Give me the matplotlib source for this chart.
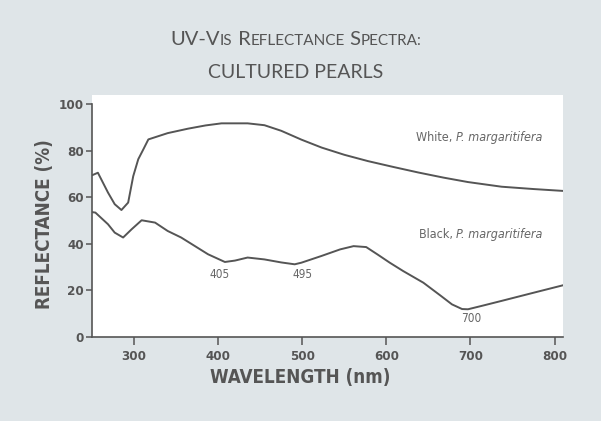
import matplotlib

matplotlib.use("Agg")
import matplotlib.pyplot as plt
from matplotlib import font_manager
from matplotlib.patches import Rectangle

# wavelength (nm) / reflectance (%)
white_nm = [250, 257, 269, 277, 285, 293, 299, 305, 311, 317, 340, 364, 385, 404, 435,
            455, 475, 499, 523, 550, 578, 608, 638, 668, 697, 737, 775, 810]
white_pct = [69.4, 70.5, 62.0, 57.0, 54.5, 57.7, 69.0, 76.3, 80.5, 84.8, 87.5, 89.4,
             90.8, 91.7, 91.7, 90.9, 88.5, 84.7, 81.3, 78.2, 75.5, 73.0, 70.6, 68.4,
             66.5, 64.5, 63.5, 62.7]

black_nm = [250, 254, 269, 277, 287, 297, 309, 325, 340, 356, 388, 408, 420, 435, 455,
            475, 491, 499, 523, 545, 561, 576, 590, 604, 620, 644, 665, 678, 690, 697,
            715, 737, 775, 810]
black_pct = [53.6, 53.4, 48.4, 44.8, 42.7, 46.2, 50.1, 49.1, 45.5, 42.7, 35.5, 32.2,
             32.8, 34.1, 33.3, 32.0, 31.2, 31.9, 34.8, 37.6, 39.0, 38.6, 35.3, 31.9,
             28.3, 23.3, 17.6, 14.0, 12.0, 11.9, 13.5, 15.5, 19.0, 22.2]

peak_labels = ["405", "495", "700"]
peak_nm = [402, 500, 701]
peak_pct = [26.9, 26.9, 7.9]

series_names = ["White, ", "Black, "]
species = "P. margaritifera"
series_label_pct = [85.8, 44.0]

x_ticks = [300, 400, 500, 600, 700, 800]
y_ticks = [0, 20, 40, 60, 80, 100]

INK = "#555555"
TITLE_FONT = ["Lato", "DejaVu Sans"]

# pick a narrow sans for the labels, whatever is installed
_fonts = font_manager.fontManager.ttflist
_names = {f.name for f in _fonts}
NARROW_STRETCH = "normal"
if "Liberation Sans Narrow" in _names:
    NARROW = ["Liberation Sans Narrow", "DejaVu Sans"]
elif any(f.name == "DejaVu Sans" and str(f.stretch) in ("condensed", "semi-condensed")
         for f in _fonts):
    NARROW = ["DejaVu Sans"]
    NARROW_STRETCH = "condensed"
else:
    NARROW = ["Roboto", "DejaVu Sans"]

fig = plt.figure(figsize=(6.01, 4.21), dpi=100, facecolor="#dfe5e8")
W, H = 601, 421
renderer = fig.canvas.get_renderer()

# white panel behind the plot
fig.patches.append(Rectangle((92 / W, 1 - 337 / H), (563 - 92) / W, (337 - 95) / H,
                             transform=fig.transFigure, facecolor="white",
                             edgecolor="none", zorder=-5))

ax = fig.add_axes([92 / W, 1 - 337 / H, (563 - 92) / W, (337 - 104) / H])
ax.set_zorder(2)
ax.patch.set_alpha(0)
ax.plot(white_nm, white_pct, color=INK, lw=1.4)
ax.plot(black_nm, black_pct, color=INK, lw=1.4)
ax.set_xlim(250, 810)
ax.set_ylim(0, 100)

for lab, x, y in zip(peak_labels, peak_nm, peak_pct):
    ax.text(x, y, lab, ha="center", va="center", fontsize=8.5, color="#666666",
            family=NARROW, stretch=NARROW_STRETCH)

# series labels: plain name + italic species, right aligned
for name, y in zip(series_names, series_label_pct):
    t_it = ax.text(786, y, species, ha="right", va="center", fontsize=9,
                   style="italic", color="#666666", family=NARROW,
                   stretch=NARROW_STRETCH)
    w = t_it.get_window_extent(renderer).width
    ax.annotate(name, (786, y), xytext=(-w, 0), textcoords="offset pixels",
                ha="right", va="center", fontsize=9, color="#666666",
                family=NARROW, stretch=NARROW_STRETCH)

ax.set_xticks(x_ticks)
ax.set_yticks(y_ticks)
for spine in ["top", "right"]:
    ax.spines[spine].set_visible(False)
for spine in ["left", "bottom"]:
    ax.spines[spine].set_color(INK)
    ax.spines[spine].set_linewidth(1.2)
ax.tick_params(axis="x", direction="out", length=6, width=1.1, color=INK, pad=3)
ax.tick_params(axis="y", direction="out", length=4, width=1.1, color=INK, pad=2)
for lab in ax.get_xticklabels() + ax.get_yticklabels():
    lab.set_fontfamily(NARROW)
    lab.set_fontstretch(NARROW_STRETCH)
    lab.set_fontweight("bold")
    lab.set_fontsize(9.5)
    lab.set_color(INK)

fig.text(44.7 / W, 1 - 224 / H, "REFLECTANCE (%)", rotation=90, ha="center",
         va="center", fontsize=13.5, fontweight="bold", color=INK, family=NARROW,
         stretch=NARROW_STRETCH)
fig.text(300 / W, 1 - 377 / H, "WAVELENGTH (nm)", ha="center", va="center",
         fontsize=13.5, fontweight="bold", color=INK, family=NARROW,
         stretch=NARROW_STRETCH)

# small-caps title, laid out run by run
runs = [("UV-V", 14.5), ("IS", 11), (" R", 14.5), ("EFLECTANCE", 11),
        (" S", 14.5), ("PECTRA:", 11)]
texts = []
total = 0.0
for s, size in runs:
    t = fig.text(0, 1 - 45 / H, s, ha="left", va="baseline", fontsize=size,
                 color=INK, family=TITLE_FONT)
    w = t.get_window_extent(renderer).width
    texts.append((t, w))
    total += w
x0 = 296 - total / 2
for t, w in texts:
    t.set_x(x0 / W)
    x0 += w
fig.text(296 / W, 1 - 78.5 / H, "CULTURED PEARLS", ha="center", va="baseline",
         fontsize=14, color=INK, family=TITLE_FONT)

fig.savefig("out.png", dpi=100, facecolor=fig.get_facecolor())
